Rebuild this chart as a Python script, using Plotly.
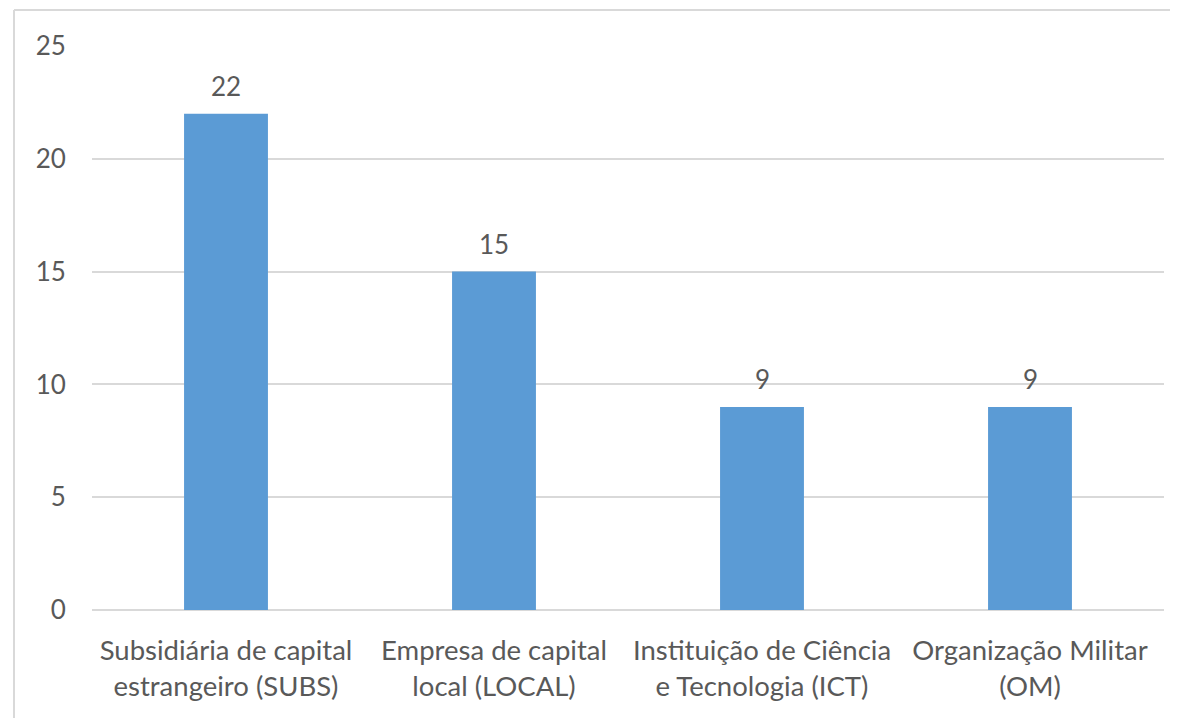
import plotly.graph_objects as go

categories = ["Subsidiária de capital<br>estrangeiro (SUBS)",
              "Empresa de capital<br>local (LOCAL)",
              "Instituição de Ciência<br>e Tecnologia (ICT)",
              "Organização Militar<br>(OM)"]
values = [22, 15, 9, 9]
y_ticks = [0, 5, 10, 15, 20, 25]

OFF = 8  # page body margin
W, H = 1170, 710
ml, mr, mt, mb = 92 - OFF, 14, 46 - OFF, 108
pw, ph = W - ml - mr, H - mt - mb

FONT = "Lato, 'Open Sans', sans-serif"
GREY = "#595959"

fig = go.Figure(go.Bar(
    x=categories, y=values,
    marker=dict(color="#5B9BD5", line=dict(width=0)),
    cliponaxis=False,
))

for c, v in zip(categories, values):
    fig.add_annotation(x=c, y=v, text=str(v), showarrow=False, yanchor="bottom",
                       yshift=10, font=dict(size=26, color=GREY, family=FONT))

bx = (14 - OFF - ml) / pw
by = 1 + (mt - (10 - OFF)) / ph
fig.add_shape(type="line", xref="paper", yref="paper", x0=bx, y0=by, x1=1.2, y1=by,
              line=dict(color="#d9d9d9", width=2))
fig.add_shape(type="line", xref="paper", yref="paper", x0=bx, y0=by, x1=bx, y1=-0.3,
              line=dict(color="#d9d9d9", width=2))

fig.update_layout(
    width=W, height=H,
    margin=dict(l=ml, r=mr, t=mt, b=mb),
    plot_bgcolor="white", paper_bgcolor="white",
    font=dict(family=FONT, size=26, color=GREY),
    bargap=0.687,
    showlegend=False,
    xaxis=dict(showgrid=False, showline=False, zeroline=False,
               ticks="outside", ticklen=16, tickcolor="rgba(0,0,0,0)",
               tickfont=dict(size=27.5, color=GREY)),
    yaxis=dict(range=[0, 25], tickvals=y_ticks, showgrid=True, gridcolor="#d9d9d9",
               gridwidth=1.5, zeroline=True, zerolinecolor="#d9d9d9", zerolinewidth=1.5,
               showline=False, ticks="outside", ticklen=20, tickcolor="rgba(0,0,0,0)",
               tickfont=dict(size=26, color=GREY)),
)

fig.write_html("out.html")
